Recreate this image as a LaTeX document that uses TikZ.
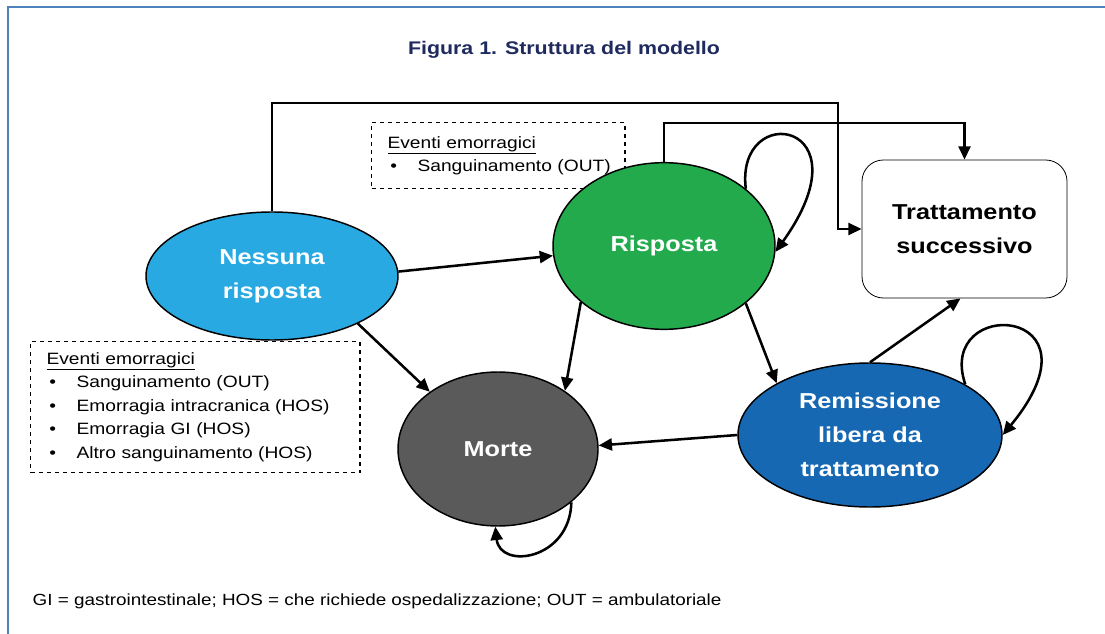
\documentclass[tikz,border=0pt]{standalone}
\usepackage{fontspec}
\setmainfont{Liberation Sans}[FakeStretch=1.17]
\usetikzlibrary{shapes.geometric,arrows.meta}
\definecolor{frameblue}{HTML}{4F81BD}
\definecolor{titlenavy}{HTML}{1F2A5E}
\definecolor{nblue}{HTML}{29A9E1}
\definecolor{rgreen}{HTML}{23AA4C}
\definecolor{mgray}{HTML}{5A5A5A}
\definecolor{remblue}{HTML}{1668B2}
\begin{document}
\begin{tikzpicture}[x=0.75pt,y=-0.75pt,
  state/.style={ellipse, draw=black, line width=1.1pt, text=white,
    font=\fontsize{16.2}{25.5}\selectfont\bfseries, align=center, inner sep=0pt},
  conn/.style={line width=1.9pt, -{Triangle[length=10pt,width=9pt]}},
  evbox/.style={draw, dashed, line width=0.9pt, anchor=north west, align=left,
    font=\fontsize{12.3}{17.6}\selectfont, inner xsep=9pt, inner ysep=0pt},
]
\useasboundingbox (0,0) rectangle (1105,634);
\fill[white] (0,0) rectangle (1105,634);
% frame
\draw[frameblue, line width=1.5pt] (8,634) -- (8,7.5) -- (1105,7.5);
% title
\node[font=\fontsize{13.7}{16}\selectfont\bfseries, text=titlenavy] (title) at (564,50) {Figura 1. Struttura del modello};
% event boxes
\node[evbox, text width=172pt, minimum height=49.5pt] (B1) at (371,122)
  {\hspace*{3pt}\underline{Eventi emorragici}\\\hspace*{5pt}\makebox[20.5pt][l]{•}Sanguinamento (OUT)};
\node[evbox, text width=229pt, minimum height=98.25pt] (B2) at (30,341)
  {\hspace*{3pt}\underline{Eventi emorragici}\\
   \hspace*{5pt}\makebox[20.5pt][l]{•}Sanguinamento (OUT)\\
   \hspace*{5pt}\makebox[20.5pt][l]{•}Emorragia intracranica (HOS)\\
   \hspace*{5pt}\makebox[20.5pt][l]{•}Emorragia GI (HOS)\\
   \hspace*{5pt}\makebox[20.5pt][l]{•}Altro sanguinamento (HOS)};
% states
\node[state, fill=nblue, minimum width=189pt, minimum height=96pt] (N) at (272,276) {Nessuna\\risposta};
\node[state, fill=rgreen, minimum width=166.5pt, minimum height=125pt] (R) at (664,246) {Risposta};
\node[state, fill=mgray, minimum width=150pt, minimum height=115.5pt] (M) at (498,449) {Morte};
\node[state, fill=remblue, minimum width=198pt, minimum height=108pt] (Re) at (870,435) {Remissione\\libera da\\trattamento};
\node[draw=black, line width=0.6pt, rounded corners=16pt, fill=white, minimum width=153.75pt, minimum height=103.5pt,
  align=center, font=\fontsize{16.2}{25.5}\selectfont\bfseries] (T) at (964.5,229) {Trattamento\\successivo};
% connectors
\coordinate (c1) at (838,103);
\coordinate (c2) at (700,123);
\draw[conn] (N.north) |- (c1) |- (T.west);
\draw[conn] (R.north) |- (c2) -| (T.north);
\draw[conn] (N.2) -- (R.185);
\draw[conn] (N.-29) -- (M.140);
\draw[conn] (R.214) -- (M.41);
\draw[conn] (R.-35) -- (Re.151);
\draw[conn] (Re.180) -- (M.2);
\draw[conn] (Re.90) -- ([xshift=-3pt]T.south);
% self loops
\draw[conn] (R.35) .. controls (735,100) and (870,120) .. (R.-3);
\draw[conn] (Re.28) .. controls (935,295) and (1110,305) .. (Re.0);
\draw[conn] (M.-36) .. controls (570,560) and (500,570) .. (M.-92);
% footnote
\node[anchor=west, font=\fontsize{12.1}{14}\selectfont] (foot) at (28,601) {GI = gastrointestinale; HOS = che richiede ospedalizzazione; OUT = ambulatoriale};
\end{tikzpicture}
\end{document}
